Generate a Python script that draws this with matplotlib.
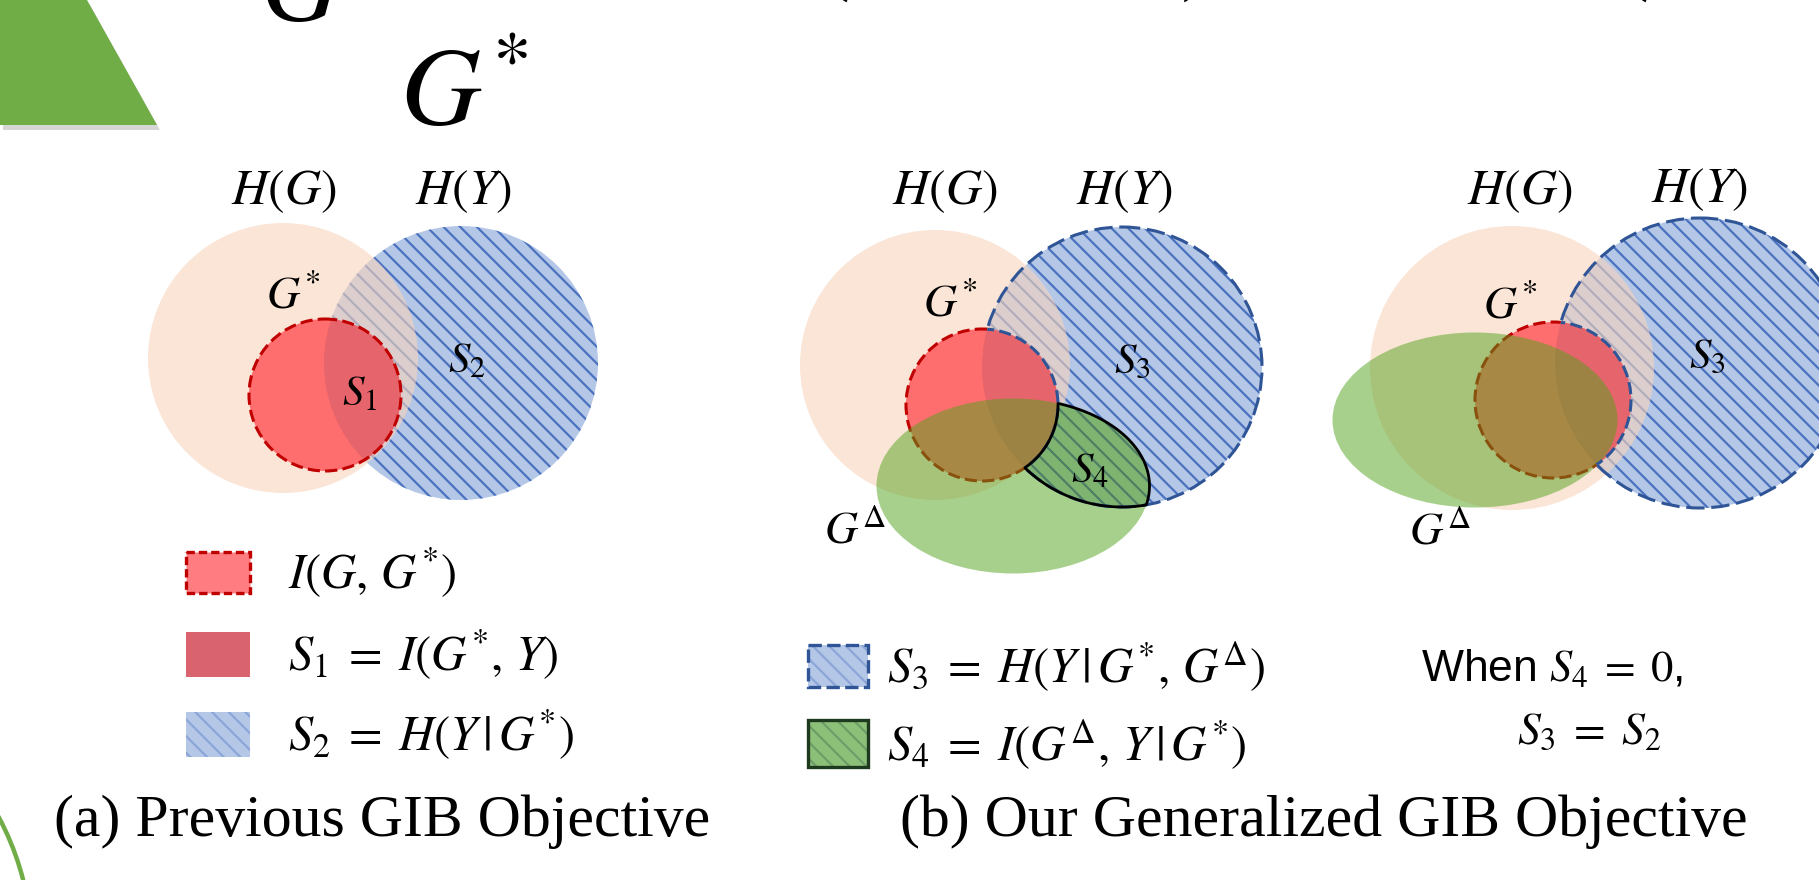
import numpy as np
import matplotlib
matplotlib.use("Agg")
import matplotlib.pyplot as plt
from matplotlib.patches import Circle, Ellipse, Polygon, Rectangle, PathPatch
from matplotlib.path import Path

plt.rcParams['mathtext.fontset'] = 'stix'
plt.rcParams['hatch.linewidth'] = 1.6
plt.rcParams['font.family'] = ['Liberation Serif', 'DejaVu Serif']

W, H = 1819, 880

# ---------------- diagram data (pixel coordinates of the slide) ----------------
hg_centers = [(283, 358), (935, 365), (1512, 368)]      # H(G) circles
hg_radii = [135, 135, 142]
hy_centers = [(461, 363), (1122, 367), (1700, 363)]     # H(Y) circles
hy_radii = [137, 140, 145]
gs_centers = [(325, 395), (982, 405), (1553, 400)]      # G* circles
gs_radii = [76, 76, 78]
gd_centers = [None, (1013, 486), (1475, 420)]           # G^Delta ellipses
gd_sizes = [None, (273, 175), (285, 175)]

hg_label_pos = [(284, 192), (945, 192), (1520, 192)]
hy_label_pos = [(464, 192), (1125, 192), (1700, 190)]
gs_label_pos = [(293, 297), (950, 305), (1510, 307)]
gd_label_pos = [None, (855, 532), (1440, 533)]
region_labels = [r'$S_1$', r'$S_2$', r'$S_3$', r'$S_4$', r'$S_3$']
region_label_pos = [(360, 395), (467, 362), (1132, 363), (1090, 472), (1707, 358)]

legend_a_labels = [r'$I(G,\,G^{*})$', r'$S_1\;=\;I(G^{*},\,Y)$', r'$S_2\;=\;H(Y\,|\,G^{*})$']
legend_a_y = [573, 655, 735]
legend_b_labels = [r'$S_3\;=\;H(Y\,|\,G^{*},\,G^{\Delta})$', r'$S_4\;=\;I(G^{\Delta},\,Y\,|\,G^{*})$']
legend_b_y = [667, 745]
note_lines = [r'When $S_4\;=\;0$,', r'$S_3\;=\;S_2$']
captions = ['(a) Previous GIB Objective', '(b) Our Generalized GIB Objective']
caption_x = [382, 1324]

# colours
PEACH = (248/255, 212/255, 187/255)
BLUE_FILL = '#B4C7E7'
BLUE_HATCH = '#4A72C0'
BLUE_EDGE = '#2F5597'
RED = '#FF6E6E'
RED_DARK = '#E6646B'
RED_EDGE = '#C00000'
GREEN = (83/255, 163/255, 29/255)
S4_FILL = '#7FB470'
S4_HATCH = '#4E7E66'
SLIDE_GREEN = '#70AD47'

fig = plt.figure(figsize=(W/100, H/100), dpi=100)
ax = fig.add_axes([0, 0, 1, 1])
ax.set_xlim(0, W)
ax.set_ylim(H, 0)
ax.axis('off')


def circ_pts(c, r, n=500, cw=False):
    t = np.linspace(0, 2*np.pi, n)
    if cw:
        t = -t
    return np.column_stack([c[0] + r*np.cos(t), c[1] + r*np.sin(t)])


def hole_clip(c, r):
    rect = np.array([[-50, -50], [W+50, -50], [W+50, H+50], [-50, H+50], [-50, -50]])
    return Path.make_compound_path(Path(rect, closed=True),
                                   Path(circ_pts(c, r, cw=True), closed=True))


# slide decorations
tri = np.array([[0, 0], [87, 0], [157, 125], [0, 125]])
ax.add_patch(Polygon(tri + [3, 5], closed=True, facecolor='0.55', alpha=0.35, lw=0, zorder=0.5))
ax.add_patch(Polygon(tri, closed=True, facecolor=SLIDE_GREEN, lw=0, zorder=0.6))
ax.add_patch(Circle((-250, 950), 282, fill=False, edgecolor=SLIDE_GREEN, lw=3.2, zorder=0.6))

# cut-off formula line at the top
ax.text(301, 20, r'$G$', fontsize=80, ha='center', va='baseline')
for xx, s in [(833, '('), (970, ','), (1195, ')'), (1632, '('), (1776, '|')]:
    ax.text(xx, 6, '$' + s + '$', fontsize=70, ha='center', va='bottom')
ax.text(464, 98, r'$G^{*}$', fontsize=80, ha='center', va='center')

for i in range(3):
    hgc, hgr = hg_centers[i], hg_radii[i]
    hyc, hyr = hy_centers[i], hy_radii[i]
    gsc, gsr = gs_centers[i], gs_radii[i]

    ax.add_patch(Circle(hyc, hyr, facecolor=BLUE_FILL, edgecolor=BLUE_HATCH, lw=0,
                        hatch='\\\\', zorder=1))
    ax.add_patch(Circle(hgc, hgr, facecolor=PEACH, alpha=0.6, lw=0, zorder=2))
    ax.add_patch(Circle(gsc, gsr, facecolor=RED, lw=0, zorder=3))
    dr = Circle(hyc, hyr, facecolor=RED_DARK, lw=0, zorder=3.1)
    ax.add_patch(dr)
    dr.set_clip_path(Path.circle(gsc, gsr), ax.transData)

    ro = Circle(gsc, gsr, fill=False, edgecolor=RED_EDGE, lw=2.2, ls=(0, (4, 1.7)), zorder=3.5)
    ax.add_patch(ro)
    if i > 0:
        ro.set_clip_path(hole_clip(hyc, hyr), ax.transData)
        gdc, (gw, gh) = gd_centers[i], gd_sizes[i]
        ax.add_patch(Ellipse(gdc, gw, gh, facecolor=GREEN, alpha=0.5, lw=0, zorder=4))

        bo = Circle(hyc, hyr, fill=False, edgecolor=BLUE_EDGE, lw=2.2, ls=(0, (6, 2.2)), zorder=6)
        ax.add_patch(bo)
        bo.set_clip_path(hole_clip(gsc, gsr), ax.transData)
        ra = Circle(gsc, gsr, fill=False, edgecolor=BLUE_EDGE, lw=2.2, ls=(0, (4, 1.7)), zorder=6)
        ax.add_patch(ra)
        ra.set_clip_path(Path.circle(hyc, hyr), ax.transData)

    if i == 1:
        gdc, (gw, gh) = gd_centers[i], gd_sizes[i]
        xs = np.arange(gsc[0] - 20, hyc[0] + hyr + 10, 0.5)
        ys = np.arange(gsc[1] - 60, gdc[1] + gh/2 + 10, 0.5)
        X, Y = np.meshgrid(xs, ys)
        fe = ((X - gdc[0])/(gw/2))**2 + ((Y - gdc[1])/(gh/2))**2 - 1
        fb = np.hypot(X - hyc[0], Y - hyc[1])/hyr - 1
        fr = 1 - np.hypot(X - gsc[0], Y - gsc[1])/gsr
        F = np.maximum(np.maximum(fe, fb), fr)
        cs = ax.contour(X, Y, F, levels=[0])
        p = cs.get_paths()[0]
        cs.remove()
        ax.add_patch(PathPatch(p, facecolor=S4_FILL, edgecolor=S4_HATCH, lw=0, hatch='\\\\', zorder=5))
        ax.add_patch(PathPatch(p, fill=False, edgecolor='black', lw=2.0, zorder=7))

    ax.text(*hg_label_pos[i], r'$H(G)$', fontsize=36, ha='center', va='center', zorder=10)
    ax.text(*hy_label_pos[i], r'$H(Y)$', fontsize=36, ha='center', va='center', zorder=10)
    ax.text(*gs_label_pos[i], r'$G^{*}$', fontsize=33, ha='center', va='center', zorder=10)
    if gd_label_pos[i] is not None:
        ax.text(*gd_label_pos[i], r'$G^{\Delta}$', fontsize=33, ha='center', va='center', zorder=10)

for lab, pos in zip(region_labels, region_label_pos):
    ax.text(*pos, lab, fontsize=31, ha='center', va='center', zorder=10)

# ---------------- legend (a) ----------------
box_x, box_w = 186, 64
ax.add_patch(Rectangle((box_x, 552), box_w, 41, facecolor='#FF7C80', edgecolor=RED_EDGE,
                       lw=2.4, ls=(0, (2.5, 1.2)), zorder=5))
ax.add_patch(Rectangle((box_x, 632), box_w, 45, facecolor='#D9646F', lw=0, zorder=5))
ax.add_patch(Rectangle((box_x, 712), box_w, 45, facecolor=BLUE_FILL, edgecolor='#8CA6D8', lw=0,
                       hatch='\\\\', zorder=5))
for lab, yy in zip(legend_a_labels, legend_a_y):
    ax.text(288, yy, lab, fontsize=35, ha='left', va='center', zorder=10)

# ---------------- legend (b) ----------------
bx, bw = 808, 60
ax.add_patch(Rectangle((bx, 645), bw, 42, facecolor=BLUE_FILL, edgecolor='#8CA6D8', lw=0,
                       hatch='\\\\', zorder=5))
ax.add_patch(Rectangle((bx, 645), bw, 42, fill=False, edgecolor=BLUE_EDGE, lw=2.4,
                       ls=(0, (4, 1.6)), zorder=6))
ax.add_patch(Rectangle((bx, 720), bw, 47, facecolor='#8CC079', edgecolor='#6E9C68', lw=0,
                       hatch='\\\\', zorder=5))
ax.add_patch(Rectangle((bx, 720), bw, 47, fill=False, edgecolor='#1E3A1E', lw=2.4, zorder=6))
for lab, yy in zip(legend_b_labels, legend_b_y):
    ax.text(887, yy, lab, fontsize=35, ha='left', va='center', zorder=10)

ax.text(1421, 669, note_lines[0], fontsize=32, ha='left', va='center',
        family=['Liberation Sans Narrow', 'Liberation Sans', 'DejaVu Sans'], zorder=10)
ax.text(1517, 733, note_lines[1], fontsize=33, ha='left', va='center', zorder=10)

# ---------------- captions ----------------
for cap, cx in zip(captions, caption_x):
    ax.text(cx, 822, cap, fontsize=43, ha='center', va='center', zorder=10)

fig.savefig('out.png', dpi=100, facecolor='white')
